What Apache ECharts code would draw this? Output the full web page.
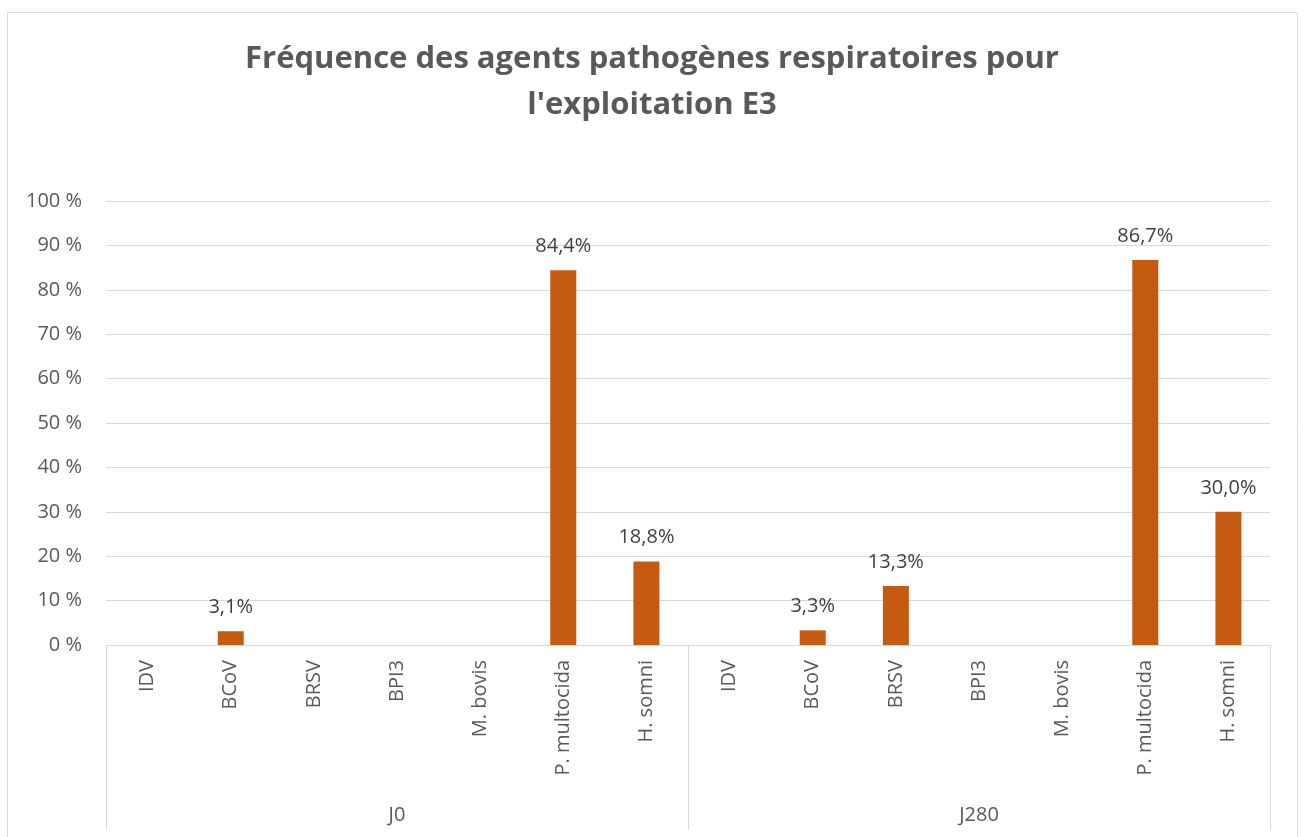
<!DOCTYPE html>
<html>
<head>
<meta charset="utf-8">
<title>Fréquence des agents pathogènes respiratoires - E3</title>
<script src="https://cdn.jsdelivr.net/npm/echarts@6/dist/echarts.min.js"></script>
<style>
  html, body { margin: 0; padding: 0; background: #fff; }
  #chart { width: 1304px; height: 837px; }
</style>
</head>
<body>
<div id="chart"></div>
<script>
// agents pathogènes, répétés pour chaque prélèvement
const agents = ["IDV", "BCoV", "BRSV", "BPI3", "M. bovis", "P. multocida", "H. somni"];
const groups = ["J0", "J280"];
// fréquence (%) par agent
const valuesJ0 = [0, 3.1, 0, 0, 0, 84.4, 18.8];
const valuesJ280 = [0, 3.3, 13.3, 0, 0, 86.7, 30.0];
const yTicks = [0, 10, 20, 30, 40, 50, 60, 70, 80, 90, 100];

const categories = agents.concat(agents);
const values = valuesJ0.concat(valuesJ280);

const font = "Open Sans";
const chart = echarts.init(document.getElementById("chart"));

chart.setOption({
  backgroundColor: "#fff",
  animation: false,
  textStyle: { fontFamily: font },
  title: {
    text: "Fréquence des agents pathogènes respiratoires pour\nl'exploitation E3",
    left: "center",
    top: 31,
    textStyle: {
      fontFamily: font,
      fontSize: 31,
      fontWeight: "bold",
      color: "#595959",
      lineHeight: 46
    }
  },
  graphic: [{
    type: "rect",
    shape: { x: 7.5, y: 12.5, width: 1290, height: 850 },
    style: { fill: "none", stroke: "#d9d9d9", lineWidth: 1 },
    silent: true
  }],
  grid: { left: 106, right: 34, top: 201, bottom: 192 },
  xAxis: [
    {
      type: "category",
      data: categories,
      position: "bottom",
      axisLine: { lineStyle: { color: "#d9d9d9", width: 1 } },
      axisTick: { show: false },
      axisLabel: {
        interval: 0,
        rotate: 90,
        margin: 15,
        fontSize: 20,
        color: "#595959",
        fontFamily: font
      }
    },
    {
      type: "category",
      data: groups,
      position: "bottom",
      axisLine: { show: false },
      axisTick: {
        show: true,
        length: 185,
        lineStyle: { color: "#d9d9d9", width: 1 }
      },
      axisLabel: {
        interval: 0,
        margin: 160,
        fontSize: 20,
        color: "#595959",
        fontFamily: font
      }
    }
  ],
  yAxis: {
    type: "value",
    min: yTicks[0],
    max: yTicks[yTicks.length - 1],
    interval: 10,
    axisLine: { show: false },
    axisTick: { show: false },
    splitLine: { lineStyle: { color: "#d9d9d9", width: 1 } },
    axisLabel: {
      margin: 24,
      fontSize: 20,
      color: "#595959",
      fontFamily: font,
      formatter: v => v + " %"
    }
  },
  series: [{
    type: "bar",
    xAxisIndex: 0,
    data: values,
    barWidth: 26,
    itemStyle: { color: "#C55A11" },
    label: {
      show: true,
      position: "top",
      distance: 14,
      fontSize: 20,
      color: "#404040",
      fontFamily: font,
      formatter: p => p.value > 0 ? p.value.toFixed(1).replace(".", ",") + "%" : ""
    }
  }]
});
</script>
</body>
</html>
